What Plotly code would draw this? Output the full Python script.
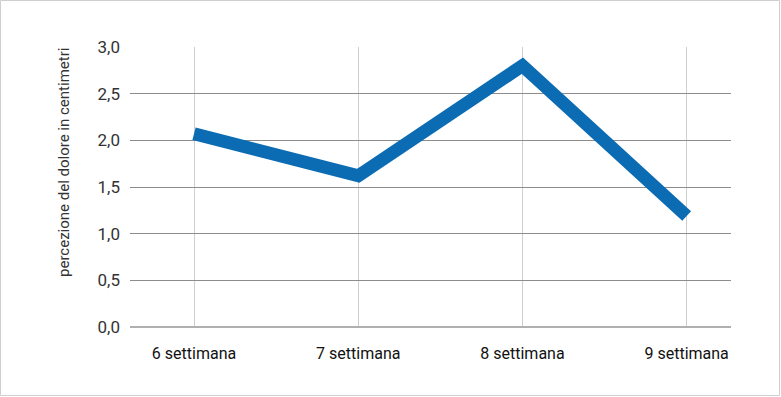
import plotly.graph_objects as go

categories = ["6 settimana", "7 settimana", "8 settimana", "9 settimana"]
values = [2.07, 1.62, 2.80, 1.19]
y_ticks = [0, 0.5, 1.0, 1.5, 2.0, 2.5, 3.0]
y_tick_labels = ["0,0", "0,5", "1,0", "1,5", "2,0", "2,5", "3,0"]
y_title = "percezione del dolore in centimetri"

W, H = 781, 397
L, R, T, B = 130, 50, 47, 70
pw, ph = W - L - R, H - T - B

font_family = "Roboto, Arial, sans-serif"

fig = go.Figure()
fig.add_trace(go.Scatter(
    x=list(range(len(categories))), y=values, mode="lines",
    line=dict(color="#0b6cb4", width=13),
    hoverinfo="skip",
))

fig.update_layout(
    width=W, height=H,
    margin=dict(l=L, r=R, t=T, b=B),
    paper_bgcolor="white", plot_bgcolor="white",
    showlegend=False,
    font=dict(family=font_family, color="#222", size=15),
    xaxis=dict(
        range=[-0.39, 3.27], tickvals=list(range(len(categories))),
        ticktext=categories, showgrid=True, gridcolor="#cfcfcf", gridwidth=1,
        zeroline=False, showline=False, ticks="", ticklabelstandoff=15,
        tickfont=dict(size=16, color="#111"),
    ),
    yaxis=dict(
        range=[0, 3.0], tickvals=y_ticks, ticktext=y_tick_labels,
        showgrid=True, gridcolor="#8c8c8c", gridwidth=1,
        zeroline=True, zerolinecolor="#b0b0b0", zerolinewidth=2,
        showline=False, ticks="", ticklabelstandoff=9,
        tickfont=dict(size=17, color="#333"),
    ),
    annotations=[dict(
        text=y_title, textangle=-90, showarrow=False,
        xref="paper", yref="paper",
        x=(64 - L) / pw, y=(H - B - 163) / ph,
        xanchor="center", yanchor="middle",
        font=dict(size=15, color="#333", family=font_family),
    )],
    shapes=[dict(
        type="rect", xref="paper", yref="paper",
        x0=(0.5 - L) / pw, x1=(W - 1.5 - L) / pw,
        y0=-(B - 1.5) / ph,
        y1=(ph + T - 0.5) / ph,
        line=dict(color="#cfcfcf", width=1), layer="below",
    )],
)

fig.write_html(
    "out.html",
    config={"displayModeBar": False, "staticPlot": True},
    post_script="document.body.style.margin='0';document.body.style.overflow='hidden';",
)
